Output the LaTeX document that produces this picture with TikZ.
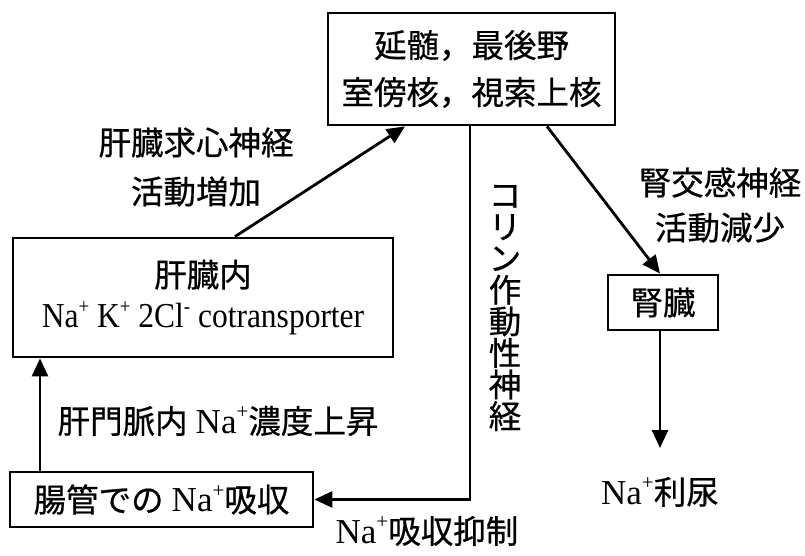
\documentclass[tikz,border=0pt]{standalone}
\usepackage{fontspec}
\usepackage{graphicx}
\setmainfont{Liberation Serif}
\newfontfamily\jp[FakeBold=0.6]{Noto Sans CJK JP}
\usetikzlibrary{arrows.meta}
\newcommand{\supx}[1]{\raisebox{0.42em}{\fontsize{21}{21}\selectfont #1}}
\newcommand{\la}{\fontsize{35}{46}\selectfont}
\begin{document}
\begin{tikzpicture}[x=1pt,y=-1pt,
  box/.style={draw,line width=2.8pt,inner sep=0pt,align=center,font=\fontsize{32.5}{47}\selectfont},
  lbl/.style={inner sep=0pt,align=center,font=\fontsize{32.5}{49}\selectfont},
  arr/.style={line width=2.8pt,-{Triangle[length=18pt,width=16pt]}}]
\path[use as bounding box] (0,0) rectangle (805,556);
\node[box,minimum width=287pt,minimum height=112pt] (top) at (471.5,69)
  {{\jp 延髄，最後野}\\{\jp 室傍核，視索上核}};
\node[box,minimum width=380pt,minimum height=119pt,font=\fontsize{32.5}{41}\selectfont] (liv) at (203,297.5)
  {{\jp 肝臓内}\\\scalebox{0.9}[1]{\la Na\supx{+} K\supx{+} 2Cl\supx{-} cotransporter}};
\node[box,minimum width=303pt,minimum height=55pt] (gut) at (161.5,499.5)
  {{\jp 腸管での} {\la Na\supx{+}}{\jp 吸収}};
\node[box,minimum width=110pt,minimum height=55pt] (kid) at (663,302.5)
  {\jp 腎臓};
\node[lbl] (l1) at (196,167) {{\jp 肝臓求心神経}\\{\jp 活動増加}};
\node[lbl,font=\fontsize{32.5}{45}\selectfont] (l2) at (720,205) {{\jp 腎交感神経}\\{\jp 活動減少}};
\node[lbl] (l3) at (218,421) {{\jp 肝門脈内} {\la Na\supx{+}}{\jp 濃度上昇}};
\node[lbl] (l4) at (427,531) {{\la Na\supx{+}}{\jp 吸収抑制}};
\node[lbl,font=\fontsize{32.5}{31.6}\selectfont\jp] (l5) at (505,308)
  {コ\\リ\\ン\\作\\動\\性\\神\\経};
\node[lbl] (na) at (660,492) {{\la Na\supx{+}}{\jp 利尿}};
\coordinate (tip) at (660,448);
\draw[arr] ([xshift=32pt]liv.north) -- ([xshift=-66.5pt]top.south);
\draw[arr] ([xshift=75.5pt]top.south) -- ([xshift=-3pt]kid.north);
\draw[arr] ([xshift=-1.5pt]top.south) |- (gut.east);
\draw[arr] ([xshift=-3pt]kid.south) -- (tip);
\draw[arr] ([xshift=-121.5pt]gut.north) -- ([xshift=-163pt]liv.south);
\end{tikzpicture}
\end{document}
